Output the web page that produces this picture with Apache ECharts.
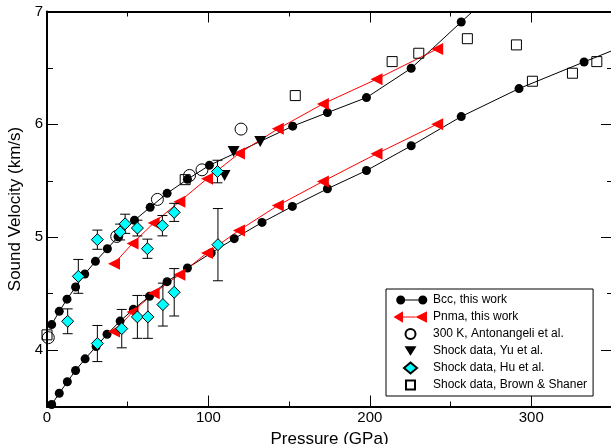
<!DOCTYPE html>
<html><head><meta charset="utf-8">
<script src="https://cdn.jsdelivr.net/npm/echarts@6/dist/echarts.min.js"></script>
<style>html,body{margin:0;padding:0;background:#fff}#c{width:611px;height:444px}</style>
</head><body><div id="c"></div>
<script>
// ---- data ----
const xMajorTicks = [0, 100, 200, 300];
const xMinorTicks = [50, 150, 250];
const yMajorTicks = [4, 5, 6, 7];
const yMinorTicks = [3.5, 4.5, 5.5, 6.5];

const bccUpperP = [2.9, 7.6, 12.4, 17.7, 23.4, 30.0, 37.4, 44.0, 54.2, 63.9, 74.4, 87.0, 100.6, 152.2, 173.7, 197.9, 225.6, 256.6, 287.2];
const bccUpperV = [4.226, 4.343, 4.451, 4.559, 4.673, 4.786, 4.898, 5.004, 5.150, 5.265, 5.389, 5.513, 5.637, 5.984, 6.104, 6.237, 6.497, 6.907, 7.314];
const bccLowerP = [2.9, 7.6, 12.6, 17.7, 23.6, 30.4, 37.2, 45.3, 53.5, 63.5, 74.4, 87.0, 101.7, 116.0, 133.2, 152.0, 173.7, 197.9, 225.6, 256.6, 292.4, 332.7, 374.0];
const bccLowerV = [3.518, 3.617, 3.719, 3.819, 3.922, 4.031, 4.140, 4.257, 4.361, 4.476, 4.606, 4.727, 4.860, 4.987, 5.131, 5.273, 5.429, 5.591, 5.810, 6.069, 6.317, 6.553, 6.790];

const pnmaP = [41.5, 53.0, 66.1, 82.0, 99.1, 118.9, 143.0, 170.9, 204.1, 241.7];
const pnmaUpperV = [4.765, 4.945, 5.126, 5.314, 5.518, 5.742, 5.960, 6.181, 6.400, 6.668];
const pnmaLowerV = [4.164, 4.338, 4.504, 4.668, 4.860, 5.060, 5.281, 5.494, 5.739, 6.002];

const antonP = [0.8, 43.2, 68.4, 88.3, 96.0, 120.2];
const antonV = [4.110, 5.007, 5.335, 5.547, 5.597, 5.958];

const yuP = [110.0, 115.6, 132.1];
const yuV = [5.547, 5.759, 5.848];

const huP   = [12.8, 19.4, 31.2, 45.3, 48.4, 56.0, 62.2, 71.5, 78.8, 105.6, 31.2, 46.3, 56.0, 62.5, 71.8, 78.8, 105.9];
const huV   = [4.255, 4.653, 4.978, 5.046, 5.119, 5.081, 4.898, 5.102, 5.220, 5.582, 4.058, 4.190, 4.294, 4.294, 4.403, 4.512, 4.934];
const huErr = [0.11, 0.15, 0.085, 0.07, 0.085, 0.07, 0.085, 0.09, 0.08, 0.10, 0.16, 0.17, 0.19, 0.19, 0.19, 0.21, 0.32];

const brownP = [0.0, 85.6, 153.8, 213.8, 230.3, 260.4, 290.8, 300.7, 325.5, 340.6];
const brownV = [4.135, 5.510, 6.255, 6.556, 6.630, 6.759, 6.704, 6.382, 6.453, 6.556];

const legendNames = ['Bcc, this work', 'Pnma, this work', '300 K, Antonangeli et al.', 'Shock data, Yu et al.', 'Shock data, Hu et al.', 'Shock data, Brown & Shaner'];

// ---- helpers ----
const zip = (a, b) => a.map((v, i) => [v, b[i]]);
const FONT = "'Liberation Sans', Arial, sans-serif";
const CORNERS = 'M0,0 M35,12 ';

function xAxisDef(pos, ticks, len, withLine, withLabel) {
  return {
    type: 'value', position: pos, min: 0, max: 350,
    axisLine: { show: withLine, onZero: false, lineStyle: { color: '#000', width: 2 } },
    axisTick: { show: true, inside: true, length: len, customValues: ticks, lineStyle: { color: '#000', width: 1 } },
    axisLabel: withLabel ? { show: true, customValues: ticks, color: '#000', fontSize: 15, fontFamily: FONT, margin: 4 } : { show: false },
    splitLine: { show: false }
  };
}
function yAxisDef(pos, ticks, len, withLine, withLabel) {
  return {
    type: 'value', position: pos, min: 3.5, max: 7,
    axisLine: { show: withLine, onZero: false, lineStyle: { color: '#000', width: 2 } },
    axisTick: { show: true, inside: true, length: len, customValues: ticks, lineStyle: { color: '#000', width: 1 } },
    axisLabel: withLabel ? { show: true, customValues: ticks, color: '#000', fontSize: 15, fontFamily: FONT, margin: 4 } : { show: false },
    splitLine: { show: false }
  };
}

const xAxes = [
  xAxisDef('bottom', xMajorTicks, 11, true, true),
  xAxisDef('bottom', xMinorTicks, 5, false, false),
  xAxisDef('top', xMajorTicks, 11, true, false),
  xAxisDef('top', xMinorTicks, 5, false, false)
];
Object.assign(xAxes[0], { name: 'Pressure (GPa)', nameLocation: 'middle', nameGap: 22,
  nameTextStyle: { color: '#000', fontSize: 17, fontFamily: FONT } });
const yAxes = [
  yAxisDef('left', yMajorTicks, 11, true, true),
  yAxisDef('left', yMinorTicks, 6, false, false),
  yAxisDef('right', yMajorTicks, 11, true, false),
  yAxisDef('right', yMinorTicks, 5, false, false)
];
Object.assign(yAxes[0], { name: 'Sound Velocity (km/s)', nameLocation: 'middle', nameGap: 19,
  nameTextStyle: { color: '#000', fontSize: 17, fontFamily: FONT } });

const leftTri = 'path://M0,5L10,0L10,10Z';
const downTri = 'path://M0,0L10,0L5,9Z';

function lineSeries(name, P, V, color, symbol, size) {
  return {
    name, type: 'line', data: zip(P, V), symbol, symbolSize: size, showSymbol: true,
    lineStyle: { color, width: 1 }, itemStyle: { color, borderWidth: 0, opacity: 1 },
    clip: true, z: 2
  };
}

const errData = huP.map((p, i) => [p, huV[i], huErr[i]]);

const option = {
  animation: false,
  backgroundColor: '#fff',
  grid: { left: 47, top: 11.5, width: 565, height: 395, containLabel: false, outerBoundsMode: 'none' },
  xAxis: xAxes,
  yAxis: yAxes,
  legend: {
    left: 386, top: 289, orient: 'vertical',
    padding: [4, 6, 4, 6], itemGap: 3, itemWidth: 35, itemHeight: 12,
    borderColor: '#000', borderWidth: 1, backgroundColor: '#fff',
    selectedMode: false,
    textStyle: { color: '#000', fontSize: 12, fontFamily: FONT, lineHeight: 14 },
    data: [
      { name: legendNames[0], icon: 'path://' + CORNERS + 'M3.2,6 A4.5,4.5 0 1 1 12.2,6 A4.5,4.5 0 1 1 3.2,6 Z M25.3,6 A4.5,4.5 0 1 1 34.3,6 A4.5,4.5 0 1 1 25.3,6 Z M12.2,5.5 L25.3,5.5 L25.3,6.5 L12.2,6.5 Z' },
      { name: legendNames[1], icon: 'path://' + CORNERS + 'M0.5,6 L10,0.3 L10,11.7 Z M10,5.5 L22.5,5.5 L22.5,6.5 L10,6.5 Z M22.5,6 L34,0.3 L34,11.7 Z' },
      { name: legendNames[2], icon: 'path://' + CORNERS + 'M12.5,6 A5,5 0 1 1 22.5,6 A5,5 0 1 1 12.5,6 Z' },
      { name: legendNames[3], icon: 'path://' + CORNERS + 'M11.5,1.3 L23.5,1.3 L17.5,10.7 Z' },
      { name: legendNames[4], icon: 'path://' + CORNERS + 'M17.5,0.5 L24,6 L17.5,11.5 L11,6 Z' },
      { name: legendNames[5], icon: 'path://' + CORNERS + 'M13,1.5 L22,1.5 L22,10.5 L13,10.5 Z' }
    ]
  },
  series: [
    lineSeries(legendNames[0], bccUpperP, bccUpperV, '#000', 'circle', 9),
    lineSeries(legendNames[0], bccLowerP, bccLowerV, '#000', 'circle', 9),
    lineSeries(legendNames[1], pnmaP, pnmaUpperV, '#ff0000', leftTri, [12, 12]),
    lineSeries(legendNames[1], pnmaP, pnmaLowerV, '#ff0000', leftTri, [12, 12]),
    {
      name: 'Hu error bars', type: 'custom', data: errData, encode: { x: 0, y: 1 }, z: 3,
      renderItem: function (params, api) {
        const x = api.value(0), y = api.value(1), e = api.value(2);
        const t = api.coord([x, y + e]), b = api.coord([x, y - e]);
        const cw = 5;
        const st = { stroke: '#000', lineWidth: 1, fill: null };
        return { type: 'group', children: [
          { type: 'line', shape: { x1: t[0], y1: t[1], x2: b[0], y2: b[1] }, style: st },
          { type: 'line', shape: { x1: t[0] - cw, y1: t[1], x2: t[0] + cw, y2: t[1] }, style: st },
          { type: 'line', shape: { x1: b[0] - cw, y1: b[1], x2: b[0] + cw, y2: b[1] }, style: st }
        ] };
      }
    },
    {
      name: legendNames[2], type: 'scatter', data: zip(antonP, antonV), symbol: 'circle', symbolSize: 12, z: 4,
      itemStyle: { color: 'rgba(255,255,255,0)', borderColor: '#000', borderWidth: 1, opacity: 1 }
    },
    {
      name: legendNames[3], type: 'scatter', data: zip(yuP, yuV), symbol: downTri, symbolSize: [12, 11], z: 4,
      itemStyle: { color: '#000', borderWidth: 0, opacity: 1 }
    },
    {
      name: legendNames[4], type: 'scatter', data: zip(huP, huV), symbol: 'diamond', symbolSize: 12, z: 5,
      itemStyle: { color: '#00ffff', borderColor: '#000', borderWidth: 1, opacity: 1 }
    },
    {
      name: legendNames[5], type: 'scatter', data: zip(brownP, brownV), symbol: 'rect', symbolSize: 10, z: 4,
      itemStyle: { color: 'rgba(255,255,255,0)', borderColor: '#000', borderWidth: 1, opacity: 1 }
    }
  ]
};
option.series.forEach(s => { s.emphasis = { disabled: true }; });

const chart = echarts.init(document.getElementById('c'), null, { renderer: 'canvas' });
chart.setOption(option);
</script></body></html>
